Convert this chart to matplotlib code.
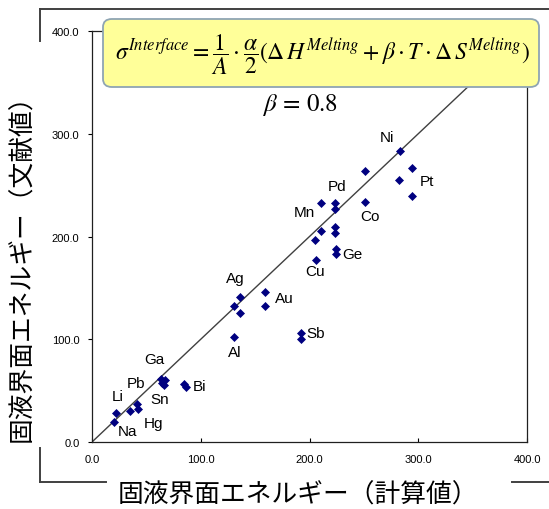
import matplotlib
matplotlib.use("Agg")
import matplotlib.pyplot as plt
from matplotlib.patches import FancyBboxPatch
from matplotlib.lines import Line2D

plt.rcParams["mathtext.fontset"] = "stix"

# calculated vs. literature solid-liquid interface energy
calc_values = [20, 22, 35, 41, 42.5,
               63.5, 67, 64, 66, 85, 86,
               130.8, 136, 130.5, 136, 159.5, 159.5,
               192, 192, 206, 205.5, 210.3, 223, 223,
               224, 224, 210.3, 223.4, 223.4, 251, 251,
               283.2, 294.6, 282.6, 294.6]
lit_values = [19, 28, 30, 37, 32,
              61, 60, 57, 55, 56, 54,
              102.5, 141.5, 132.7, 126, 146.3, 132.4,
              106, 100.5, 177, 196.8, 205.7, 209, 203.3,
              188, 182.5, 232.9, 232.3, 226.8, 233.9, 263.4,
              283.5, 266.3, 254.7, 239.7]

# element names and their label anchor points (data units)
elements = ["Na", "Li", "Hg", "Sn", "Pb", "Ga", "Bi", "Al", "Ag", "Au", "Sb",
            "Cu", "Ge", "Mn", "Pd", "Co", "Ni", "Pt"]
label_x = [32.5, 23.3, 56.4, 61.9, 40.5, 57, 98.7, 131.5, 131.5, 176.6, 206,
           205.3, 239.7, 195, 225.6, 255.6, 271, 307.8]
label_y = [11, 45.1, 18.5, 41.8, 57.4, 80.8, 54.2, 87.3, 159.3, 139.8, 105.8,
           166.7, 183, 223.6, 249.5, 219.7, 296.5, 254.3]

ticks = [0, 100, 200, 300, 400]
tick_labels = ["0.0", "100.0", "200.0", "300.0", "400.0"]

W, H = 549, 510
fig = plt.figure(figsize=(W / 100, H / 100), dpi=100)
fig.patch.set_facecolor("white")

def fx(px):
    return px / W

def fy(py):
    return 1 - py / H

ax = fig.add_axes([fx(92), fy(443), fx(527) - fx(92), fy(32) - fy(443)])
ax.set_xlim(0, 400)
ax.set_ylim(0, 400)

# reference y = x line
ax.plot([0, 400], [0, 400], color="#404040", lw=1.0, zorder=2)
ax.plot(calc_values, lit_values, linestyle="none", marker="D", ms=4.2,
        color="#000080", mec="#000080", mew=0.5, zorder=3)

for name, lx, ly in zip(elements, label_x, label_y):
    ax.text(lx, ly, name, ha="center", va="center", fontsize=11,
            family="Liberation Sans", color="black", zorder=4)

ax.set_xticks(ticks)
ax.set_xticklabels(tick_labels)
ax.set_yticks(ticks)
ax.set_yticklabels(tick_labels)
ax.tick_params(axis="x", direction="in", length=3, pad=9, labelsize=8,
               width=0.8)
ax.tick_params(axis="y", direction="out", length=3, pad=6, labelsize=8,
               width=0.8)
for lab in ax.get_xticklabels() + ax.get_yticklabels():
    lab.set_family("Liberation Sans")
for sp in ax.spines.values():
    sp.set_linewidth(0.9)
    sp.set_color("#202020")

# outer frame segments
frame_kw = dict(color="#404040", lw=1.4, transform=fig.transFigure)
segments = [((40, 10), (549, 10)), ((40, 10), (40, 42)), ((40, 449), (40, 483)),
            ((40, 483), (106, 483)), ((512, 483), (549, 483))]
for (x0, y0), (x1, y1) in segments:
    fig.add_artist(Line2D([fx(x0), fx(x1)], [fy(y0), fy(y1)], **frame_kw))

# axis titles
fig.text(fx(22), fy(262), "固液界面エネルギー（文献値）", rotation=90,
         ha="center", va="center", fontsize=18.5,
         family=["Noto Sans CJK JP", "DejaVu Sans"])
fig.text(fx(298), fy(496), "固液界面エネルギー（計算値）",
         ha="center", va="center", fontsize=18.5,
         family=["Noto Sans CJK JP", "DejaVu Sans"])

# formula box
box = FancyBboxPatch((fx(103), fy(88)), fx(539) - fx(103), fy(20) - fy(88),
                     boxstyle="round,pad=0,rounding_size=0.016",
                     transform=fig.transFigure, facecolor="#FFFF99",
                     edgecolor="#8FA5B3", lw=1.3, zorder=5)
fig.add_artist(box)
fig.text(fx(322), fy(55),
         r"$\sigma^{Interface}=\dfrac{1}{A}\cdot\dfrac{\alpha}{2}"
         r"(\Delta\,H^{Melting}+\beta\cdot T\cdot\Delta\,S^{Melting})$",
         ha="center", va="center", fontsize=17, zorder=6)
fig.text(fx(300), fy(105), r"$\beta\,=\,0.8$", ha="center", va="center",
         fontsize=18, zorder=6)

fig.savefig("out.png", dpi=100)
